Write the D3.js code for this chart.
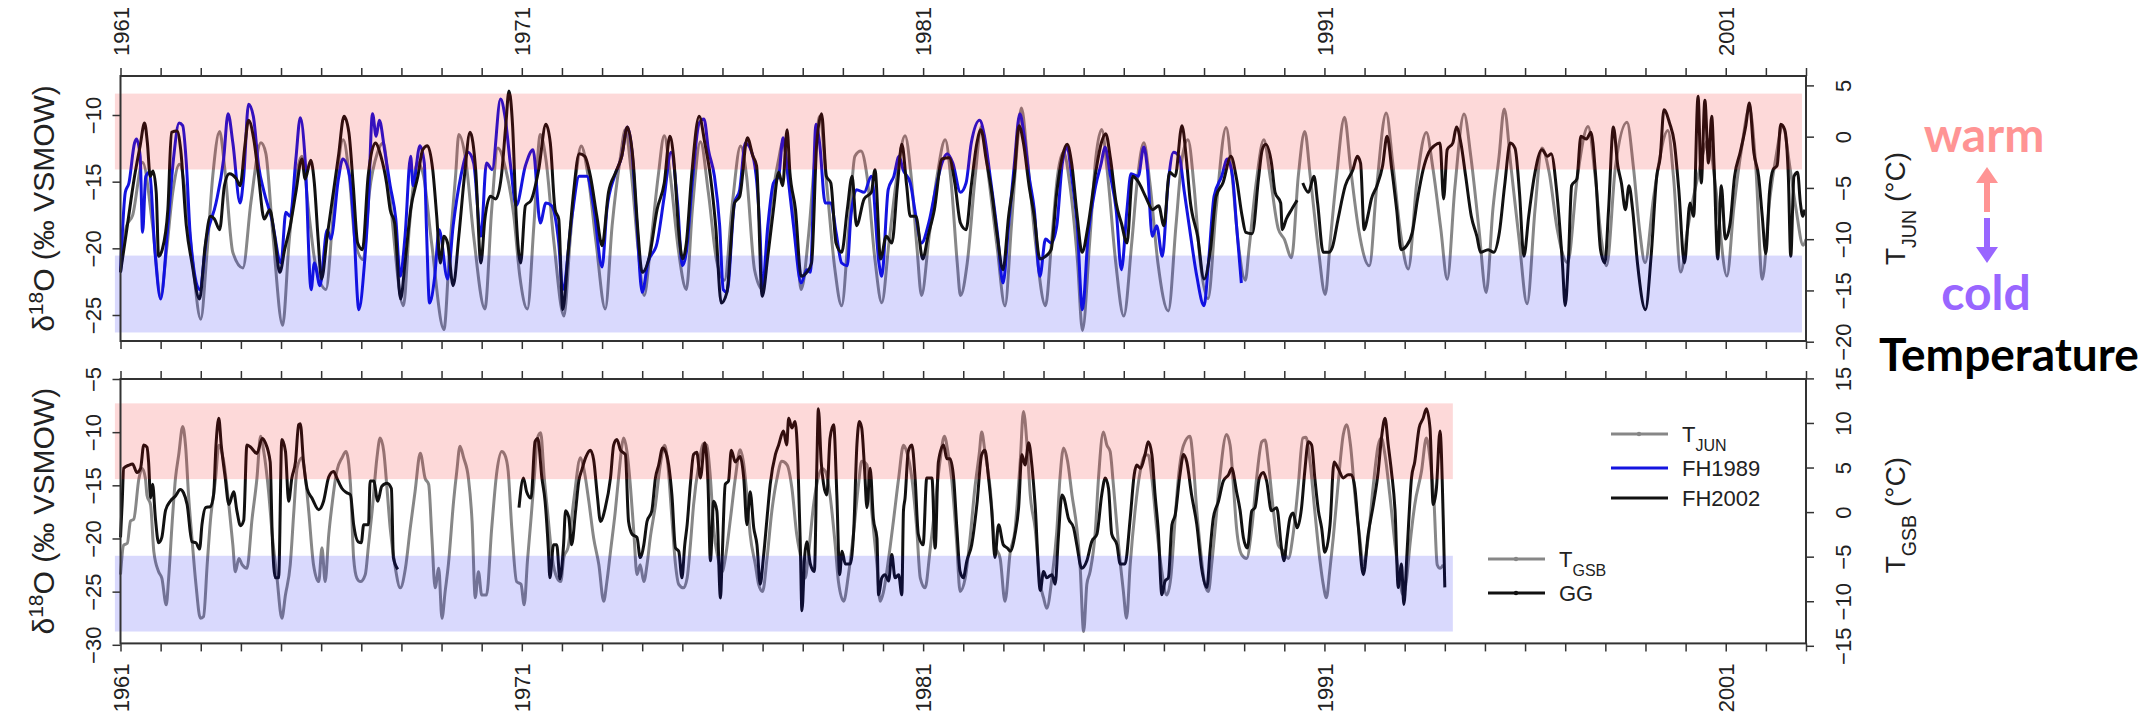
<!DOCTYPE html>
<html lang="en">
<head>
<meta charset="UTF-8">
<title>d18O and temperature, 1961-2003</title>
<script src="https://d3js.org/d3.v7.min.js"></script>
<style>
  body { margin: 0; background: #fff; }
  svg { display: block; font-family: "Liberation Sans", Arial, sans-serif; }
  .tick text { font-size: 22px; fill: #222; }
  .tick line { stroke: #333; stroke-width: 1.5; }
  .note { font-family: Lato, "Open Sans", sans-serif; font-weight: 700; }
</style>
</head>
<body>
<svg id="chart" width="2142" height="721"></svg>
<script>
// tick labels
const labelYears = [1961, 1971, 1981, 1991, 2001];
const topLeftTicks = [-10, -15, -20, -25];
const topRightTicks = [5, 0, -5, -10, -15, -20];
const botLeftTicks = [-5, -10, -15, -20, -25, -30];
const botRightTicks = [15, 10, 5, 0, -5, -10, -15];

// warm / cold bands (deg C on the right axis) and their time spans
const topBands = [[-3.2, 4.2, "warm"], [-19.1, -11.6, "cold"]];
const topBandSpan = [1960.86, 2002.9];
const botBands = [[3.7, 12.2, "warm"], [-13.4, -4.9, "cold"]];
const botBandSpan = [1960.86, 1994.2];

// top panel: T_JUN (deg C)
const tJun = [[1961.0,-13.2],[1961.15,-8.7],[1961.3,-7.7],[1961.55,-2.5],[1961.8,-8.7],[1962.0,-15.5],[1962.15,-11],[1962.3,-5.5],[1962.47,-2.7],[1962.62,-5.5],[1962.8,-12.3],[1963.0,-17.8],[1963.15,-11.6],[1963.3,-3.8],[1963.47,0.5],[1963.6,-3.2],[1963.8,-11.3],[1964.05,-12.8],[1964.25,-6.4],[1964.5,-0.6],[1964.62,-1.6],[1964.8,-9.7],[1965.04,-18.4],[1965.2,-10.3],[1965.35,-4.8],[1965.52,-1.9],[1965.7,-7.7],[1965.85,-12.3],[1966.12,-14.9],[1966.3,-7.7],[1966.55,-0.3],[1966.7,-3.8],[1966.85,-10.3],[1967.05,-12],[1967.2,-5.5],[1967.4,-1.6],[1967.55,-0.6],[1967.7,-5.5],[1968.05,-16.5],[1968.2,-8.7],[1968.4,-2.5],[1968.55,-3.8],[1968.75,-10.3],[1969.06,-18.8],[1969.2,-11],[1969.35,-3.8],[1969.43,0.2],[1969.6,-2.2],[1969.8,-9.7],[1970.08,-16.8],[1970.25,-7.1],[1970.4,-1.1],[1970.6,-3.2],[1970.8,-7.7],[1970.95,-13.6],[1971.14,-16.8],[1971.3,-8.7],[1971.46,0.2],[1971.6,-2.2],[1971.8,-10.3],[1972.05,-17.5],[1972.2,-10.3],[1972.35,-3.8],[1972.48,-0.9],[1972.65,-3.8],[1972.85,-10.3],[1973.08,-16.8],[1973.25,-8.7],[1973.45,-2.2],[1973.58,0.7],[1973.72,-3.2],[1973.9,-11],[1974.05,-15.5],[1974.2,-11],[1974.4,-3.8],[1974.55,0.1],[1974.7,-3.8],[1974.9,-11],[1975.1,-14.9],[1975.25,-7.1],[1975.45,-0.5],[1975.65,-5.5],[1975.85,-12],[1976.05,-14],[1976.25,-6.4],[1976.45,-0.9],[1976.6,-3.8],[1976.8,-13],[1977.0,-14.9],[1977.2,-7.1],[1977.4,-2.2],[1977.5,-0.6],[1977.65,-3.8],[1977.85,-10.3],[1977.96,-14.9],[1978.15,-9.4],[1978.3,-2.2],[1978.42,2.0],[1978.6,-4.8],[1978.8,-12.9],[1978.97,-16.5],[1979.15,-8.7],[1979.3,-1.9],[1979.45,-1.4],[1979.6,-3.8],[1979.8,-12],[1979.97,-16.2],[1980.15,-10.3],[1980.35,-3.8],[1980.55,0.1],[1980.7,-3.8],[1980.85,-11],[1980.96,-15.5],[1981.15,-9.7],[1981.35,-3.8],[1981.55,-0.3],[1981.7,-4.5],[1981.85,-12.3],[1981.93,-15.5],[1982.1,-12.3],[1982.3,-3.8],[1982.45,1.0],[1982.65,-4.5],[1982.85,-11],[1983.04,-16.5],[1983.2,-8.7],[1983.35,-0.6],[1983.45,2.8],[1983.6,-2.2],[1983.8,-10.3],[1984.05,-16.5],[1984.2,-10.3],[1984.35,-3.8],[1984.5,-1.5],[1984.65,-4.5],[1984.85,-12.3],[1984.97,-18.9],[1985.15,-10.3],[1985.3,-2.2],[1985.45,0.7],[1985.6,-3.8],[1985.8,-12.3],[1986.0,-17.5],[1986.2,-10.3],[1986.35,-3.8],[1986.5,-0.6],[1986.65,-4.5],[1986.85,-12.3],[1987.11,-17],[1987.3,-8.7],[1987.45,-2.2],[1987.6,-0.3],[1987.75,-4.8],[1987.9,-12],[1988.1,-15.8],[1988.3,-7.1],[1988.55,0.9],[1988.7,-3.8],[1988.85,-10.3],[1989.03,-14],[1989.12,-11],[1989.3,-4.5],[1989.49,-0.3],[1989.65,-4],[1989.85,-9],[1990.0,-10],[1990.18,-11.8],[1990.35,-3.8],[1990.51,0.5],[1990.65,-4],[1990.85,-11],[1991.02,-15.4],[1991.15,-10],[1991.3,-4],[1991.5,1.9],[1991.65,-3],[1991.85,-9],[1992.12,-12.6],[1992.3,-5],[1992.54,2.3],[1992.7,-2.5],[1992.9,-9.5],[1993.09,-12.9],[1993.3,-4.5],[1993.54,0.4],[1993.7,-3],[1993.9,-9],[1994.06,-13.9],[1994.25,-5],[1994.48,2.2],[1994.65,-2],[1994.85,-9],[1995.03,-15.2],[1995.2,-7],[1995.35,-2],[1995.48,2.7],[1995.65,-3],[1995.85,-10],[1996.05,-16.3],[1996.25,-7],[1996.42,-1.1],[1996.6,-3.5],[1996.8,-9],[1997.06,-12.3],[1997.3,-4],[1997.57,1.0],[1997.75,-4],[1997.9,-10],[1998.03,-12.6],[1998.25,-3],[1998.54,1.4],[1998.7,-3],[1998.85,-9],[1998.99,-12.3],[1999.2,-6],[1999.56,0.6],[1999.7,-4],[1999.88,-13.2],[2000.05,-9],[2000.3,-4],[2000.57,-0.3],[2000.75,-5],[2001.03,-13.6],[2001.2,-7],[2001.4,-1],[2001.59,2.8],[2001.75,-3],[2001.91,-13.9],[2002.1,-6],[2002.25,-2],[2002.42,1.0],[2002.6,-3],[2002.75,-7],[2002.93,-10.6],[2003.0,-10]];

// top panel: FH1989 d18O (permil)
const fh1989 = [[1961.0,-21.8],[1961.12,-15.8],[1961.21,-15.1],[1961.35,-12.1],[1961.4,-11.8],[1961.49,-13.1],[1961.55,-18.8],[1961.63,-14.6],[1961.72,-14.3],[1961.86,-20.3],[1962.0,-23.8],[1962.18,-18.3],[1962.32,-13.3],[1962.46,-10.6],[1962.55,-10.8],[1962.64,-13.6],[1962.74,-19.1],[1962.97,-23.1],[1963.15,-19.1],[1963.38,-16.6],[1963.57,-13.3],[1963.68,-9.9],[1963.8,-12.1],[1963.98,-16.6],[1964.07,-14.6],[1964.19,-9.2],[1964.31,-10.1],[1964.44,-13.8],[1964.58,-15.8],[1964.77,-17.8],[1965.0,-21.1],[1965.12,-17.3],[1965.23,-17.6],[1965.37,-13.3],[1965.48,-10.2],[1965.6,-13.3],[1965.75,-23.1],[1965.83,-21.1],[1965.97,-22.8],[1966.15,-18.6],[1966.24,-19.3],[1966.43,-14.8],[1966.54,-13.3],[1966.71,-14.6],[1966.8,-17.6],[1966.94,-24.6],[1967.08,-21.1],[1967.17,-17.1],[1967.28,-9.9],[1967.37,-11.6],[1967.45,-10.4],[1967.58,-12.6],[1967.72,-15.3],[1967.86,-17.8],[1967.97,-22.1],[1968.09,-19.1],[1968.23,-13.1],[1968.29,-15.3],[1968.46,-12.3],[1968.57,-13.6],[1968.63,-19.1],[1968.7,-24.1],[1968.83,-22.1],[1968.94,-18.6],[1969.15,-22.3],[1969.29,-18.3],[1969.48,-14.6],[1969.66,-12.8],[1969.8,-13.6],[1969.98,-19.1],[1970.12,-13.6],[1970.26,-14.1],[1970.47,-8.8],[1970.58,-10.1],[1970.72,-13.8],[1970.86,-16.8],[1971.09,-13.8],[1971.28,-12.6],[1971.46,-18.1],[1971.6,-16.6],[1971.74,-16.8],[1971.92,-19.6],[1972.02,-23.1],[1972.25,-17.6],[1972.43,-14.6],[1972.62,-14.6],[1972.8,-17.1],[1973.0,-21.4],[1973.12,-17.1],[1973.31,-14.6],[1973.49,-13.1],[1973.63,-10.9],[1973.74,-12.6],[1973.86,-17.8],[1974.0,-23.3],[1974.14,-21.1],[1974.37,-19.6],[1974.55,-16.1],[1974.72,-12.8],[1974.88,-16.6],[1975.0,-21.3],[1975.1,-20.3],[1975.25,-15],[1975.42,-10.6],[1975.54,-10.3],[1975.65,-12.6],[1975.8,-14.6],[1975.93,-18.3],[1976.02,-23.1],[1976.11,-23.3],[1976.3,-16.6],[1976.43,-15.6],[1976.57,-12.1],[1976.76,-13.1],[1976.94,-19.1],[1976.99,-23.1],[1977.13,-18.3],[1977.27,-15.1],[1977.4,-14.6],[1977.51,-11.7],[1977.63,-14.6],[1977.77,-18.3],[1977.96,-22.6],[1978.1,-21.6],[1978.19,-21.8],[1978.33,-10.7],[1978.42,-12.1],[1978.56,-16.6],[1978.7,-16.6],[1978.83,-18.8],[1978.97,-21.1],[1979.11,-21.3],[1979.2,-17.6],[1979.34,-15.6],[1979.53,-15.8],[1979.71,-14.6],[1979.9,-21.1],[1979.97,-22.1],[1980.13,-15.6],[1980.27,-14.6],[1980.4,-13.1],[1980.5,-14.1],[1980.68,-15.1],[1980.82,-17.6],[1980.96,-19.6],[1981.14,-18.1],[1981.33,-15.3],[1981.47,-13.6],[1981.6,-12.9],[1981.74,-13.6],[1981.93,-15.8],[1982.07,-15.1],[1982.2,-12.1],[1982.41,-10.4],[1982.53,-11.6],[1982.67,-14.6],[1982.85,-18.8],[1982.99,-22.6],[1983.13,-18.3],[1983.27,-13.8],[1983.41,-9.9],[1983.52,-11.6],[1983.64,-14.6],[1983.77,-17.1],[1983.91,-22.1],[1984.05,-19.3],[1984.19,-19.6],[1984.33,-18.3],[1984.47,-13.6],[1984.59,-12.4],[1984.7,-14.6],[1984.84,-18.3],[1984.97,-24.6],[1985.11,-19.1],[1985.3,-15.3],[1985.44,-13.6],[1985.53,-12.4],[1985.67,-14.6],[1985.81,-17.1],[1985.94,-21.6],[1986.08,-17.1],[1986.18,-14.4],[1986.36,-14.6],[1986.5,-12.4],[1986.59,-14.1],[1986.71,-19.1],[1986.82,-18.3],[1986.96,-20.6],[1987.1,-15.3],[1987.24,-12.8],[1987.38,-13.1],[1987.51,-15.8],[1987.63,-18.3],[1987.82,-22.1],[1988.0,-24.3],[1988.11,-21.1],[1988.25,-16.1],[1988.44,-14.6],[1988.58,-13.3],[1988.71,-14.6],[1988.81,-18.3],[1988.93,-22.6]];

// top panel: FH2002 d18O (permil), null = gap
const fh2002 = [[1961.0,-21.8],[1961.17,-18.3],[1961.35,-14.6],[1961.49,-12.3],[1961.6,-10.6],[1961.67,-12.1],[1961.74,-14.6],[1961.81,-14.2],[1961.89,-15.8],[1961.95,-20.6],[1962.04,-20.1],[1962.18,-17.1],[1962.27,-11.3],[1962.41,-11.2],[1962.5,-12.6],[1962.64,-18.3],[1962.78,-21.1],[1962.97,-23.8],[1963.11,-19.8],[1963.24,-17.6],[1963.34,-17.8],[1963.47,-18.6],[1963.59,-15.3],[1963.71,-14.4],[1963.89,-14.8],[1963.98,-15.3],[1964.1,-12.3],[1964.19,-10.4],[1964.32,-11.8],[1964.44,-14.6],[1964.58,-17.8],[1964.72,-17.1],[1964.84,-19.1],[1964.97,-21.8],[1965.09,-20.1],[1965.23,-18.3],[1965.37,-15.8],[1965.52,-13.3],[1965.6,-14.8],[1965.74,-13.4],[1965.83,-15.1],[1965.92,-19.1],[1966.01,-22.3],[1966.15,-19.1],[1966.29,-16.1],[1966.43,-13.1],[1966.57,-10.1],[1966.69,-11.3],[1966.8,-15.3],[1966.91,-19.6],[1967.03,-20.1],[1967.17,-14.6],[1967.35,-12.1],[1967.49,-13.1],[1967.63,-15.1],[1967.72,-17.1],[1967.83,-18.1],[1967.98,-23.8],[1968.09,-21.1],[1968.23,-17.1],[1968.41,-14.6],[1968.53,-12.6],[1968.65,-12.3],[1968.78,-14.1],[1968.88,-17.6],[1968.97,-21.1],[1969.06,-19.1],[1969.15,-19.6],[1969.29,-22.8],[1969.43,-19.1],[1969.57,-14.6],[1969.71,-11.3],[1969.85,-14.1],[1969.98,-21.1],[1970.08,-17.8],[1970.22,-16.1],[1970.35,-16.3],[1970.49,-14.6],[1970.6,-10.8],[1970.68,-8.2],[1970.77,-10.8],[1970.86,-17.6],[1970.97,-21.1],[1971.09,-16.8],[1971.23,-16.4],[1971.42,-14.1],[1971.6,-10.7],[1971.71,-12.1],[1971.83,-17.1],[1971.92,-17.8],[1972.02,-24.6],[1972.16,-20.1],[1972.29,-15.8],[1972.43,-12.9],[1972.57,-13.1],[1972.71,-14.6],[1972.87,-17.6],[1973.0,-19.8],[1973.16,-15.8],[1973.34,-14.3],[1973.49,-13.1],[1973.63,-10.9],[1973.77,-13.3],[1973.89,-18.6],[1974.0,-21.8],[1974.18,-20.6],[1974.37,-17.1],[1974.55,-15.1],[1974.69,-11.6],[1974.78,-13.1],[1974.92,-19.1],[1975.01,-20.8],[1975.1,-19.6],[1975.23,-14.6],[1975.42,-10.1],[1975.56,-12.1],[1975.7,-14.6],[1975.83,-18.3],[1975.97,-24.1],[1976.11,-23.3],[1976.3,-16.6],[1976.43,-16.1],[1976.62,-11.7],[1976.76,-13.1],[1976.85,-13.8],[1976.99,-23.6],[1977.13,-20.6],[1977.27,-17.1],[1977.4,-14.3],[1977.5,-15.3],[1977.61,-11.1],[1977.68,-14.3],[1977.82,-17.1],[1977.96,-22.1],[1978.1,-21.8],[1978.22,-21.1],[1978.35,-12.1],[1978.47,-9.9],[1978.59,-14.6],[1978.7,-15.1],[1978.83,-19.6],[1978.97,-20.3],[1979.11,-17.1],[1979.23,-14.6],[1979.34,-18.3],[1979.53,-16.3],[1979.71,-15.8],[1979.8,-14.1],[1979.94,-20.8],[1980.08,-19.1],[1980.22,-19.6],[1980.36,-15.3],[1980.47,-12.2],[1980.59,-15.3],[1980.68,-17.6],[1980.82,-17.6],[1980.99,-20.8],[1981.12,-19.1],[1981.28,-17.1],[1981.47,-13.3],[1981.65,-13.2],[1981.79,-15.1],[1981.93,-18.1],[1982.07,-18.6],[1982.2,-15.3],[1982.34,-12.1],[1982.44,-11.1],[1982.57,-13.3],[1982.71,-15.8],[1982.85,-19.1],[1982.99,-21.6],[1983.13,-17.6],[1983.27,-14.6],[1983.39,-10.8],[1983.5,-12.1],[1983.64,-15.3],[1983.77,-17.6],[1983.91,-20.8],[1984.05,-20.6],[1984.19,-20.1],[1984.33,-15.8],[1984.47,-13.1],[1984.59,-12.2],[1984.7,-13.6],[1984.84,-17.6],[1984.96,-20.3],[1985.11,-18.3],[1985.3,-14.3],[1985.44,-12.1],[1985.55,-11.4],[1985.67,-13.3],[1985.81,-16.6],[1985.94,-18.1],[1986.08,-19.6],[1986.22,-14.6],[1986.36,-15],[1986.54,-16.1],[1986.72,-17.1],[1986.87,-16.8],[1987.0,-18.3],[1987.14,-14.3],[1987.28,-14.6],[1987.45,-10.8],[1987.56,-13.3],[1987.65,-16.3],[1987.84,-19.1],[1988.0,-22.3],[1988.16,-20.1],[1988.3,-16.1],[1988.47,-15.1],[1988.67,-13.1],[1988.81,-14.8],[1988.95,-17.6],[1989.04,-18.8],[1989.2,-18.9],[1989.36,-14.7],[1989.45,-12.6],[1989.54,-12.2],[1989.68,-13.6],[1989.77,-15.8],[1989.91,-16.6],[1989.95,-18.6],[1990.05,-17.8],[1990.18,-17.1],[1990.32,-16.4],[1990.39,null],[1990.46,-15.1],[1990.6,-15.8],[1990.74,-14.6],[1990.83,-16.6],[1990.97,-20.3],[1991.11,-20.3],[1991.2,-19.9],[1991.34,-17.8],[1991.52,-15.3],[1991.71,-14.1],[1991.82,-13.1],[1991.9,-13.6],[1991.99,-18.6],[1992.08,-17.6],[1992.17,-16.3],[1992.31,-15.3],[1992.45,-13.8],[1992.56,-11.6],[1992.68,-14.1],[1992.8,-17.1],[1992.91,-20.1],[1993.05,-19.8],[1993.19,-18.8],[1993.32,-16.3],[1993.46,-14.1],[1993.6,-12.8],[1993.74,-12.3],[1993.88,-12.1],[1993.97,-16.3],[1994.06,-12.6],[1994.2,-12.1],[1994.29,-10.9],[1994.4,-12.1],[1994.52,-14.6],[1994.66,-17.6],[1994.8,-19.1],[1994.89,-20.3],[1995.08,-20.1],[1995.22,-20.3],[1995.36,-18.8],[1995.49,-15.3],[1995.63,-12.1],[1995.75,-12.5],[1995.86,-15.8],[1995.97,-20.6],[1996.09,-17.6],[1996.23,-14.6],[1996.42,-12.6],[1996.56,-13.1],[1996.65,-12.9],[1996.79,-15.8],[1996.93,-21.1],[1997.0,-24.3],[1997.08,-20.8],[1997.16,-15.3],[1997.29,-14.8],[1997.39,-11.6],[1997.53,-11.8],[1997.64,-11.3],[1997.76,-14.6],[1997.88,-20.1],[1997.99,-21.1],[1998.08,-17.1],[1998.2,-10.9],[1998.31,-13.8],[1998.4,-15.1],[1998.5,-17.1],[1998.59,-15.3],[1998.68,-17.1],[1998.8,-21.1],[1999.0,-24.6],[1999.14,-20.6],[1999.28,-14.6],[1999.37,-13.1],[1999.46,-9.6],[1999.6,-10.6],[1999.72,-12.1],[1999.83,-15.6],[1999.97,-21.1],[2000.11,-16.6],[2000.2,-17.6],[2000.31,-8.6],[2000.39,-15.1],[2000.48,-8.9],[2000.57,-13.6],[2000.65,-10.1],[2000.71,-13.8],[2000.8,-20.8],[2000.89,-15.3],[2000.99,-19.3],[2001.11,-18.1],[2001.22,-14.6],[2001.36,-12.8],[2001.5,-10.8],[2001.59,-9.1],[2001.7,-12.8],[2001.82,-14.6],[2001.91,-17.6],[2002.0,-20.4],[2002.09,-15.8],[2002.18,-14.1],[2002.28,-13.8],[2002.37,-10.7],[2002.47,-11.1],[2002.56,-14.6],[2002.62,-20.6],[2002.7,-14.6],[2002.79,-14.3],[2002.86,-16.6],[2002.92,-17.6],[2002.97,-17.1]];

// bottom panel: T_GSB (deg C)
const tGsb = [[1961.0,-7.0],[1961.08,-3.7],[1961.17,-3.5],[1961.25,-1.0],[1961.33,-0.8],[1961.46,3.8],[1961.54,4.9],[1961.62,3.8],[1961.66,1.9],[1961.75,0.8],[1961.83,-4.4],[1961.95,-6.7],[1962.03,-7.4],[1962.14,-10.4],[1962.2,-7.4],[1962.29,-1.0],[1962.37,3.8],[1962.45,6.4],[1962.55,9.6],[1962.62,7.5],[1962.7,1.6],[1962.78,-2.9],[1962.88,-8.1],[1962.99,-11.9],[1963.07,-11.7],[1963.16,-5.9],[1963.24,-1.0],[1963.37,3.8],[1963.45,7.5],[1963.57,5.7],[1963.7,0.8],[1963.8,-3.7],[1963.86,-6.7],[1963.95,-5.2],[1964.03,-5.9],[1964.15,-6.3],[1964.28,-0.7],[1964.4,3.8],[1964.49,8.5],[1964.57,6.8],[1964.69,2.3],[1964.78,-2.5],[1964.9,-7.4],[1965.02,-11.9],[1965.11,-9.3],[1965.23,-5.9],[1965.32,0.1],[1965.4,4.9],[1965.52,6.1],[1965.61,3.8],[1965.69,0.1],[1965.81,-5.9],[1965.94,-7.8],[1966.02,-4.0],[1966.1,-7.8],[1966.19,-2.5],[1966.27,0.8],[1966.39,4.6],[1966.52,6.1],[1966.62,6.8],[1966.73,3.1],[1966.81,-5.2],[1966.89,-7.4],[1966.98,-7.8],[1967.1,-7.0],[1967.18,-3.7],[1967.27,0.1],[1967.39,6.1],[1967.47,8.3],[1967.56,6.8],[1967.64,2.7],[1967.72,-1.8],[1967.85,-6.3],[1967.97,-8.5],[1968.1,-6.3],[1968.22,-1.8],[1968.34,2.3],[1968.47,6.6],[1968.59,3.8],[1968.68,3.1],[1968.76,-2.9],[1968.84,-8.5],[1968.93,-6.3],[1969.01,-11.9],[1969.09,-8.9],[1969.17,-5.9],[1969.3,1.2],[1969.38,4.6],[1969.46,7.4],[1969.55,6.1],[1969.67,3.8],[1969.76,-1.0],[1969.84,-9.6],[1969.92,-6.7],[1970.0,-9.3],[1970.12,-9.3],[1970.25,-1.8],[1970.38,4.6],[1970.5,6.8],[1970.58,6.4],[1970.66,4.6],[1970.75,-1.8],[1970.87,-7.8],[1970.98,-8.1],[1971.06,-10.4],[1971.14,-5.5],[1971.23,-0.7],[1971.31,3.8],[1971.39,8.3],[1971.47,8.9],[1971.56,3.8],[1971.64,0.1],[1971.76,-5.2],[1971.88,-7.4],[1971.97,-7.8],[1972.05,-5.0],[1972.15,-4.0],[1972.3,1.5],[1972.46,6.1],[1972.54,5.0],[1972.67,1.2],[1972.79,-2.9],[1972.92,-5.9],[1973.04,-10.0],[1973.12,-7.8],[1973.21,-4.4],[1973.33,0.1],[1973.41,3.8],[1973.54,8.3],[1973.62,6.8],[1973.71,2.7],[1973.79,-2.2],[1973.87,-7.0],[1973.95,-5.9],[1974.04,-7.8],[1974.12,-5.9],[1974.2,-2.9],[1974.33,0.8],[1974.45,5.3],[1974.56,7.5],[1974.64,5.3],[1974.74,-0.7],[1974.83,-5.9],[1974.91,-8.1],[1975.03,-8.5],[1975.12,-7.4],[1975.2,-3.7],[1975.28,0.8],[1975.41,5.3],[1975.53,7.7],[1975.61,7.5],[1975.7,3.8],[1975.78,-1.8],[1975.89,-5.2],[1975.99,-6.7],[1976.07,-5.2],[1976.2,-0.7],[1976.32,3.8],[1976.44,7.0],[1976.52,5.7],[1976.61,1.9],[1976.69,-2.5],[1976.82,-5.9],[1976.9,-8.1],[1977.0,-8.9],[1977.11,-5.2],[1977.23,0.1],[1977.36,3.8],[1977.48,5.7],[1977.61,5.3],[1977.73,2.7],[1977.85,-2.5],[1977.94,-4.8],[1978.06,-7.4],[1978.15,-4.4],[1978.27,0.8],[1978.35,3.1],[1978.48,4.9],[1978.56,4.6],[1978.68,1.9],[1978.81,-3.7],[1978.89,-7.8],[1979.02,-10.0],[1979.14,-7.0],[1979.27,-2.2],[1979.39,3.1],[1979.47,5.7],[1979.6,5.3],[1979.68,1.9],[1979.76,-1.8],[1979.85,-5.9],[1979.93,-10.0],[1980.01,-9.0],[1980.14,-5.2],[1980.26,-1.0],[1980.39,3.8],[1980.51,7.5],[1980.59,6.8],[1980.72,3.8],[1980.84,-1.8],[1980.93,-7.4],[1981.05,-8.5],[1981.17,-4.4],[1981.3,0.8],[1981.42,5.7],[1981.53,8.5],[1981.63,6.4],[1981.71,3.8],[1981.84,-3.7],[1981.92,-8.9],[1982.05,-7.4],[1982.17,-2.9],[1982.29,2.7],[1982.4,6.6],[1982.46,9.0],[1982.54,6.8],[1982.67,2.7],[1982.79,-3.7],[1982.92,-5.2],[1983.04,-10.0],[1983.17,-4.5],[1983.29,-2.0],[1983.36,1.9],[1983.42,5.7],[1983.5,11.3],[1983.59,7.5],[1983.67,1.9],[1983.79,-1.8],[1983.92,-8.1],[1984.0,-9.6],[1984.08,-10.8],[1984.21,-7.4],[1984.33,-2.2],[1984.41,3.8],[1984.5,7.2],[1984.6,5.7],[1984.71,1.9],[1984.83,-1.8],[1984.91,-5.9],[1985.0,-13.4],[1985.08,-8.1],[1985.16,-6.7],[1985.29,-2.2],[1985.37,3.8],[1985.49,9.0],[1985.58,7.5],[1985.66,6.8],[1985.74,3.1],[1985.87,-3.7],[1985.99,-8.9],[1986.07,-11.9],[1986.16,-5.9],[1986.28,0.1],[1986.41,4.6],[1986.53,6.4],[1986.61,6.4],[1986.7,3.8],[1986.82,-1.8],[1986.95,-6.7],[1987.07,-9.3],[1987.17,-7.4],[1987.28,-0.7],[1987.36,3.8],[1987.49,7.5],[1987.65,8.5],[1987.73,5.7],[1987.82,0.1],[1987.9,-3.7],[1988.02,-8.1],[1988.11,-8.9],[1988.19,-5.9],[1988.3,-0.7],[1988.4,4.2],[1988.56,8.7],[1988.65,7.5],[1988.73,3.1],[1988.81,-1.8],[1988.94,-4.8],[1989.06,-5.2],[1989.19,-1.8],[1989.31,3.8],[1989.44,7.9],[1989.52,8.1],[1989.6,5.7],[1989.73,0.1],[1989.85,-3.7],[1989.98,-4.4],[1990.1,-5.2],[1990.22,-2.5],[1990.35,3.1],[1990.46,8.3],[1990.54,8.4],[1990.64,5.7],[1990.76,0.1],[1990.89,-5.5],[1990.97,-8.1],[1991.05,-9.6],[1991.13,-6.7],[1991.22,-2.9],[1991.34,3.1],[1991.47,8.7],[1991.55,9.8],[1991.65,7.5],[1991.76,1.9],[1991.88,-2.9],[1991.97,-5.9],[1992.09,-2.9],[1992.22,3.1],[1992.34,7.5],[1992.42,8.3],[1992.51,6.4],[1992.63,1.9],[1992.76,-3.7],[1992.88,-7.8],[1992.96,-9.3],[1993.05,-7.4],[1993.13,-3.7],[1993.25,0.8],[1993.42,4.6],[1993.54,8.3],[1993.64,5.7],[1993.73,1.2],[1993.81,-5.9],[1993.88,-6.3],[1993.96,-5.9]];

// bottom panel: GG d18O (permil), null = gap
const gg = [[1961.0,-19.9],[1961.04,-16.8],[1961.08,-13.4],[1961.21,-13.1],[1961.3,-13.0],[1961.41,-13.8],[1961.5,-13.4],[1961.58,-11.2],[1961.66,-11.4],[1961.7,-12.8],[1961.75,-16.2],[1961.8,-14.9],[1961.87,-18.1],[1961.95,-20.4],[1962.03,-19.9],[1962.12,-17.4],[1962.24,-16.5],[1962.37,-16.0],[1962.49,-15.4],[1962.57,-15.7],[1962.66,-16.8],[1962.78,-20.3],[1962.88,-20.4],[1962.97,-21.0],[1963.03,-18.7],[1963.12,-17.1],[1963.24,-17.0],[1963.32,-15.9],[1963.38,-11.2],[1963.45,-8.7],[1963.51,-11.2],[1963.61,-14.3],[1963.7,-16.8],[1963.82,-15.6],[1963.9,-17.4],[1963.99,-18.8],[1964.07,-18.3],[1964.15,-11.2],[1964.24,-11.4],[1964.4,-12.0],[1964.53,-10.6],[1964.61,-11.0],[1964.73,-12.8],[1964.78,-19.6],[1964.86,-23.7],[1964.94,-23.7],[1965.02,-10.7],[1965.11,-11.8],[1965.19,-16.5],[1965.27,-14.3],[1965.36,-12.8],[1965.44,-9.3],[1965.48,-9.2],[1965.56,-12.8],[1965.65,-15.3],[1965.77,-16.2],[1965.94,-17.3],[1966.06,-16.5],[1966.19,-14.2],[1966.31,-13.7],[1966.39,-14.3],[1966.52,-15.3],[1966.64,-15.7],[1966.73,-15.9],[1966.81,-18.7],[1966.92,-20.3],[1967.0,-20.4],[1967.06,-18.7],[1967.18,-18.7],[1967.22,-14.6],[1967.31,-14.6],[1967.41,-16.5],[1967.51,-15.1],[1967.64,-14.8],[1967.75,-15.3],[1967.8,-21.8],[1967.91,-22.9],[1969.5,null],[1970.93,-17.1],[1971.04,-14.3],[1971.12,-15.6],[1971.23,-16.2],[1971.33,-10.9],[1971.4,-10.6],[1971.5,-14.3],[1971.58,-16.5],[1971.66,-20.9],[1971.7,-23.7],[1971.79,-20.6],[1971.87,-20.6],[1971.95,-23.8],[1972.04,-20.6],[1972.09,-17.4],[1972.17,-18.0],[1972.24,-20.6],[1972.34,-17.4],[1972.42,-14.6],[1972.5,-13.5],[1972.59,-12.4],[1972.71,-11.7],[1972.79,-12.6],[1972.88,-15.9],[1972.96,-18.4],[1973.08,-17.1],[1973.21,-14.3],[1973.29,-11.2],[1973.37,-10.7],[1973.46,-11.7],[1973.58,-12.1],[1973.66,-18.4],[1973.75,-19.6],[1973.87,-19.9],[1973.95,-21.8],[1974.04,-20.6],[1974.12,-18.4],[1974.24,-17.4],[1974.33,-14.3],[1974.41,-13.1],[1974.51,-11.5],[1974.58,-11.8],[1974.66,-13.1],[1974.74,-15.9],[1974.83,-20.9],[1974.91,-21.2],[1974.99,-23.7],[1975.06,-20.6],[1975.12,-18.7],[1975.2,-14.9],[1975.28,-12.1],[1975.36,-11.9],[1975.45,-14.3],[1975.56,-11.0],[1975.64,-14.9],[1975.7,-22.1],[1975.78,-16.5],[1975.86,-17.4],[1975.95,-25.6],[1975.99,-22.1],[1976.07,-14.9],[1976.15,-14.6],[1976.22,-11.7],[1976.32,-12.8],[1976.44,-12.3],[1976.53,-14.3],[1976.61,-18.7],[1976.69,-15.6],[1976.78,-19.0],[1976.86,-20.6],[1976.94,-24.3],[1977.02,-21.8],[1977.11,-18.1],[1977.19,-14.9],[1977.32,-12.1],[1977.4,-11.2],[1977.52,-9.9],[1977.6,-11.2],[1977.65,-8.7],[1977.73,-9.6],[1977.81,-9.0],[1977.88,-12.8],[1977.94,-20.6],[1977.98,-26.8],[1978.05,-21.6],[1978.1,-20.3],[1978.19,-22.4],[1978.29,-23.1],[1978.35,-13.4],[1978.39,-7.8],[1978.46,-12.8],[1978.52,-14.9],[1978.6,-15.9],[1978.68,-10.6],[1978.77,-9.3],[1978.85,-15.9],[1978.92,-23.4],[1978.98,-21.2],[1979.06,-22.4],[1979.18,-22.4],[1979.27,-19.3],[1979.35,-11.2],[1979.41,-9.0],[1979.47,-9.6],[1979.54,-13.4],[1979.6,-17.1],[1979.68,-13.4],[1979.76,-18.1],[1979.85,-20.0],[1979.89,-25.3],[1979.97,-23.7],[1980.05,-23.4],[1980.14,-24.0],[1980.22,-21.5],[1980.3,-23.7],[1980.39,-23.4],[1980.47,-25.3],[1980.51,-17.4],[1980.55,-16.2],[1980.63,-11.8],[1980.72,-11.2],[1980.8,-14.3],[1980.88,-19.6],[1981.0,-20.6],[1981.09,-14.3],[1981.22,-14.3],[1981.3,-20.9],[1981.38,-12.8],[1981.51,-11.2],[1981.59,-12.5],[1981.67,-12.5],[1981.76,-14.3],[1981.84,-19.0],[1981.92,-23.1],[1982.0,-23.7],[1982.09,-22.1],[1982.21,-20.6],[1982.34,-16.8],[1982.46,-12.1],[1982.54,-11.7],[1982.63,-14.3],[1982.71,-17.4],[1982.79,-21.8],[1982.88,-18.7],[1983.0,-20.6],[1983.1,-20.9],[1983.17,-21.2],[1983.29,-19.6],[1983.38,-17.1],[1983.46,-12.1],[1983.54,-13.1],[1983.63,-11.0],[1983.71,-13.1],[1983.79,-16.8],[1983.92,-24.9],[1984.0,-23.1],[1984.08,-23.7],[1984.21,-23.4],[1984.29,-24.3],[1984.37,-19.9],[1984.46,-15.9],[1984.51,-16.2],[1984.62,-18.1],[1984.75,-19.0],[1984.83,-20.6],[1984.95,-22.8],[1985.08,-22.1],[1985.2,-20.3],[1985.33,-19.6],[1985.45,-15.9],[1985.54,-14.3],[1985.62,-15.3],[1985.7,-19.6],[1985.83,-20.6],[1985.91,-22.4],[1986.03,-22.4],[1986.16,-18.1],[1986.26,-14.0],[1986.32,-13.1],[1986.42,-13.4],[1986.53,-12.1],[1986.61,-10.9],[1986.7,-12.1],[1986.78,-15.9],[1986.86,-19.3],[1986.95,-25.3],[1987.03,-24.0],[1987.11,-23.7],[1987.2,-18.7],[1987.28,-17.8],[1987.4,-14.0],[1987.49,-12.1],[1987.57,-12.8],[1987.69,-15.9],[1987.82,-18.7],[1987.94,-22.8],[1988.07,-24.6],[1988.15,-21.2],[1988.23,-18.1],[1988.36,-16.5],[1988.48,-14.6],[1988.61,-14.0],[1988.69,-13.4],[1988.81,-15.6],[1988.9,-17.4],[1988.98,-19.9],[1989.08,-20.9],[1989.19,-17.4],[1989.27,-17.1],[1989.38,-14.3],[1989.48,-13.8],[1989.56,-14.6],[1989.68,-17.4],[1989.81,-17.1],[1989.93,-20.9],[1989.99,-22.1],[1990.07,-19.9],[1990.14,-18.1],[1990.22,-17.6],[1990.32,-19.0],[1990.43,-17.1],[1990.51,-13.7],[1990.6,-10.9],[1990.68,-11.2],[1990.76,-14.3],[1990.85,-17.4],[1990.93,-19.0],[1991.01,-21.3],[1991.14,-18.7],[1991.24,-12.8],[1991.34,-13.4],[1991.47,-14.3],[1991.59,-14.0],[1991.67,-14.0],[1991.76,-15.3],[1991.84,-18.7],[1991.97,-23.4],[1992.09,-19.6],[1992.22,-16.8],[1992.34,-13.7],[1992.42,-10.6],[1992.51,-8.7],[1992.59,-11.2],[1992.67,-13.7],[1992.76,-17.4],[1992.84,-24.6],[1992.92,-22.4],[1992.98,-26.2],[1993.06,-21.2],[1993.17,-14.3],[1993.25,-12.8],[1993.36,-9.6],[1993.46,-8.7],[1993.54,-7.8],[1993.63,-9.6],[1993.71,-16.8],[1993.79,-15.3],[1993.88,-9.9],[1993.96,-18.1],[1994.0,-24.6]];

const svg = d3.select("#chart");
const ink = "#222";

const x = d3.scaleLinear().domain([1961, 2003]).range([120.5, 1806]);
const panels = {
  top: { y0: 76, y1: 341,
         yl: d3.scaleLinear().domain([-10, -25]).range([115, 315]),
         yr: d3.scaleLinear().domain([5, -20]).range([85.4, 341.7]) },
  bot: { y0: 379, y1: 643.4,
         yl: d3.scaleLinear().domain([-5, -30]).range([379, 644.8]),
         yr: d3.scaleLinear().domain([15, -15]).range([378.4, 645.8]) }
};

const allYears = d3.range(1961, 2004);
const yearFmt = d => labelYears.includes(d) ? String(d) : "";

function drawLine(data, y, color, width) {
  const line = d3.line()
    .defined(d => d[1] != null)
    .curve(d3.curveMonotoneX)
    .x(d => x(d[0]))
    .y(d => y(d[1]));
  svg.append("path")
    .datum(data)
    .attr("fill", "none")
    .attr("stroke", color)
    .attr("stroke-width", width)
    .attr("stroke-linejoin", "round")
    .attr("d", line);
}

function drawBands(p, bands, span) {
  bands.forEach(b => {
    svg.append("rect")
      .attr("x", x(span[0]))
      .attr("width", x(span[1]) - x(span[0]))
      .attr("y", p.yr(b[1]))
      .attr("height", p.yr(b[0]) - p.yr(b[1]))
      .attr("fill", b[2] === "warm" ? "rgb(240,0,0)" : "rgb(0,0,240)")
      .attr("fill-opacity", 0.15);
  });
}

function yearAxis(p, where, labelled) {
  const y = where === "top" ? p.y0 : p.y1;
  const ax = (where === "top" ? d3.axisTop(x) : d3.axisBottom(x))
    .tickValues(allYears).tickSize(8).tickSizeOuter(0)
    .tickFormat(labelled ? yearFmt : () => "");
  const g = svg.append("g").attr("transform", `translate(0,${y})`).call(ax);
  g.select(".domain").remove();
  g.selectAll("text")
    .attr("y", null).attr("dy", "0.35em")
    .attr("text-anchor", where === "top" ? "start" : "end")
    .attr("transform", where === "top" ? "translate(0,-20) rotate(-90)" : "translate(0,20) rotate(-90)");
}

function valueAxis(scale, ticks, side) {
  const ax = (side === "left" ? d3.axisLeft(scale) : d3.axisRight(scale))
    .tickValues(ticks).tickSize(8).tickSizeOuter(0).tickFormat(d3.format("d"));
  const g = svg.append("g")
    .attr("transform", `translate(${side === "left" ? x(1961) : x(2003)},0)`)
    .call(ax);
  g.select(".domain").remove();
  g.selectAll("text")
    .attr("x", null).attr("dy", null)
    .attr("text-anchor", "middle")
    .attr("transform", side === "left" ? "translate(-20,0) rotate(-90)" : "translate(45,0) rotate(-90)");
}

function axisTitle(px, py, parts, size) {
  const t = svg.append("text")
    .attr("transform", `translate(${px},${py}) rotate(-90)`)
    .attr("text-anchor", "middle")
    .attr("font-size", size)
    .attr("fill", ink);
  parts.forEach(([s, kind]) => {
    const ts = t.append("tspan").text(s);
    if (kind === "sup") ts.attr("baseline-shift", "super").attr("font-size", size * 0.7);
    if (kind === "sub") ts.attr("baseline-shift", "sub").attr("font-size", size * 0.7);
  });
}

// ---- top panel
const P = panels.top;
drawLine(tJun, P.yr, "#878787", 3);
drawLine(fh1989, P.yl, "#1414e0", 3);
drawLine(fh2002, P.yl, "#111", 3);
drawBands(P, topBands, topBandSpan);

// ---- bottom panel
const B = panels.bot;
drawLine(tGsb, B.yr, "#878787", 3);
drawLine(gg, B.yl, "#111", 3);
drawBands(B, botBands, botBandSpan);

// frames and axes
[P, B].forEach(p => {
  svg.append("rect")
    .attr("x", x(1961)).attr("y", p.y0)
    .attr("width", x(2003) - x(1961)).attr("height", p.y1 - p.y0)
    .attr("fill", "none").attr("stroke", "#333").attr("stroke-width", 2);
});
yearAxis(P, "top", true);
yearAxis(P, "bottom", false);
yearAxis(B, "top", false);
yearAxis(B, "bottom", true);
valueAxis(P.yl, topLeftTicks, "left");
valueAxis(P.yr, topRightTicks, "right");
valueAxis(B.yl, botLeftTicks, "left");
valueAxis(B.yr, botRightTicks, "right");

const d18 = [["\u03B4", ""], ["18", "sup"], ["O (\u2030 VSMOW)", ""]];
axisTitle(54, (P.y0 + P.y1) / 2, d18, 30);
axisTitle(54, (B.y0 + B.y1) / 2, d18, 30);
axisTitle(1905, (P.y0 + P.y1) / 2, [["T", ""], ["JUN", "sub"], [" (\u00B0C)", ""]], 28);
axisTitle(1905, (B.y0 + B.y1) / 2 + 4, [["T", ""], ["GSB", "sub"], [" (\u00B0C)", ""]], 28);

// legend
function legendItem(lx, ly, color, parts, dot) {
  svg.append("line").attr("x1", lx).attr("x2", lx + 57).attr("y1", ly).attr("y2", ly)
    .attr("stroke", color).attr("stroke-width", 3);
  if (dot) svg.append("circle").attr("cx", lx + 28).attr("cy", ly).attr("r", 2.2).attr("fill", color);
  const t = svg.append("text").attr("x", lx + 71).attr("y", ly + 8)
    .attr("font-size", 22).attr("fill", ink);
  parts.forEach(([s, kind]) => {
    const ts = t.append("tspan").text(s);
    if (kind === "sub") ts.attr("baseline-shift", "sub").attr("font-size", 16);
  });
}
legendItem(1611, 434, "#878787", [["T", ""], ["JUN", "sub"]], true);
legendItem(1611, 468, "#1414e0", [["FH1989", ""]], false);
legendItem(1611, 498, "#111", [["FH2002", ""]], false);
legendItem(1488, 559, "#878787", [["T", ""], ["GSB", "sub"]], true);
legendItem(1488, 593, "#111", [["GG", ""]], true);

// warm / cold note
svg.append("text").attr("class", "note").attr("x", 1984).attr("y", 152)
  .attr("text-anchor", "middle").attr("font-size", 48).attr("fill", "#ff9494").text("warm");
svg.append("line").attr("x1", 1987).attr("x2", 1987).attr("y1", 212).attr("y2", 180)
  .attr("stroke", "#ff9494").attr("stroke-width", 6);
svg.append("path").attr("d", "M1976,183 L1998,183 L1987,167 Z").attr("fill", "#ff9494");
svg.append("line").attr("x1", 1987).attr("x2", 1987).attr("y1", 218).attr("y2", 250)
  .attr("stroke", "#9966ff").attr("stroke-width", 6);
svg.append("path").attr("d", "M1976,247 L1998,247 L1987,263 Z").attr("fill", "#9966ff");
svg.append("text").attr("class", "note").attr("x", 1986).attr("y", 310)
  .attr("text-anchor", "middle").attr("font-size", 48).attr("fill", "#9966ff").text("cold");
svg.append("text").attr("class", "note").attr("x", 1879).attr("y", 371)
  .attr("font-size", 46).attr("fill", "#000").text("Temperature");
</script>
</body>
</html>
